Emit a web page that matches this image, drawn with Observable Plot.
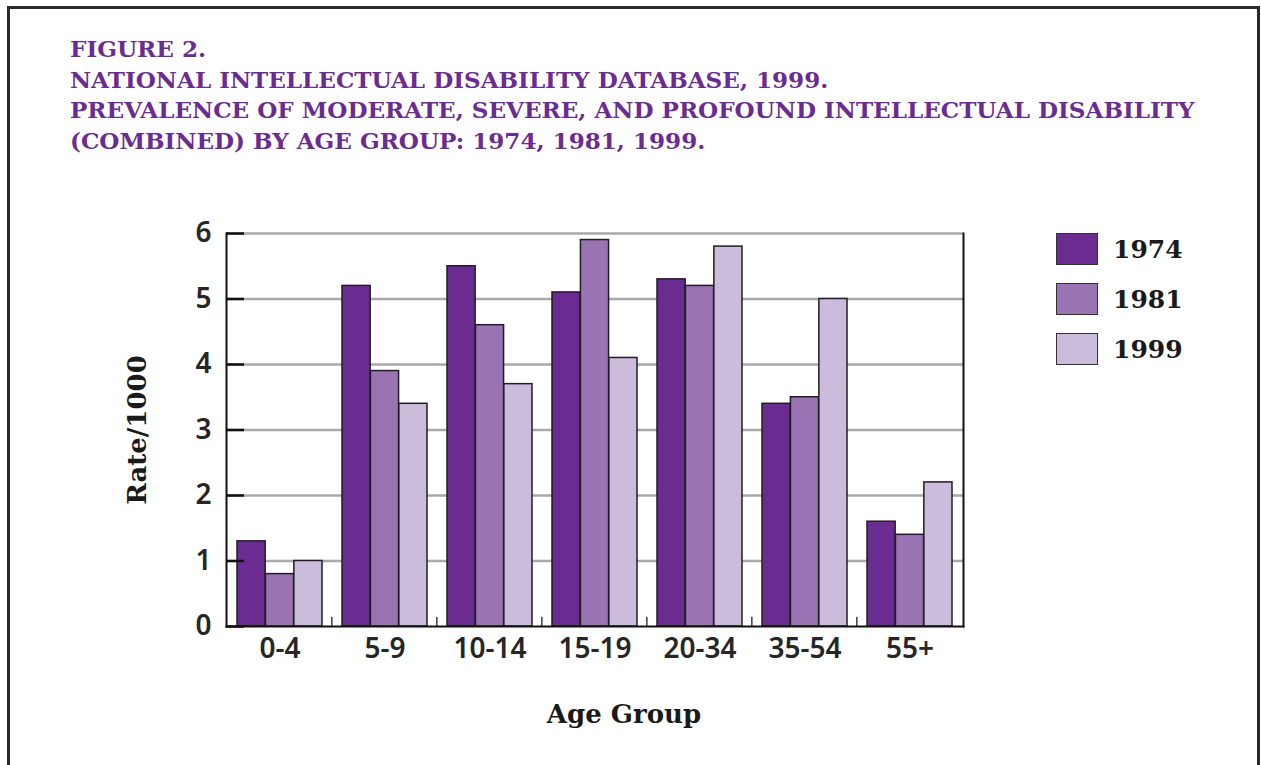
<!DOCTYPE html>
<html>
<head>
<meta charset="utf-8">
<script src="https://cdn.jsdelivr.net/npm/d3@7"></script>
<script src="https://cdn.jsdelivr.net/npm/@observablehq/plot@0.6"></script>
<style>
  html, body { margin: 0; padding: 0; background: #fff; width: 1261px; height: 765px; overflow: hidden; }
  #frame { position: absolute; left: 7px; top: 6px; width: 1253px; height: 900px; box-sizing: border-box;
           border: 3px solid #2a2a2a; border-bottom: none; }
  #title { position: absolute; left: 70px; top: 34px; color: #6a2c91; font-family: "DejaVu Serif", serif;
           font-weight: bold; line-height: 30.7px; white-space: nowrap; }
  #chart { position: absolute; left: 0; top: 200px; }
  .leg-sw { position: absolute; left: 1056px; width: 42px; height: 32px; box-sizing: border-box; border: 1.5px solid #333; }
  .leg-tx { position: absolute; left: 1113px; font-family: "DejaVu Serif", serif; font-weight: bold; font-size: 25px;
            color: #1a1a1a; line-height: 32px; }
</style>
</head>
<body>
<div id="frame"></div>
<div id="title"></div>
<div id="chart"></div>
<div id="legend"></div>
<script>
// ---- data ----
const titleLines = [
  "FIGURE 2.",
  "NATIONAL INTELLECTUAL DISABILITY DATABASE, 1999.",
  "PREVALENCE OF MODERATE, SEVERE, AND PROFOUND INTELLECTUAL DISABILITY",
  "(COMBINED) BY AGE GROUP: 1974, 1981, 1999."
];
const ageGroups = ["0-4", "5-9", "10-14", "15-19", "20-34", "35-54", "55+"];
const years = ["1974", "1981", "1999"];
const rate1974 = [1.3, 5.2, 5.5, 5.1, 5.3, 3.4, 1.6];
const rate1981 = [0.8, 3.9, 4.6, 5.9, 5.2, 3.5, 1.4];
const rate1999 = [1.0, 3.4, 3.7, 4.1, 5.8, 5.0, 2.2];
const yTicks = [0, 1, 2, 3, 4, 5, 6];
const yearColors = ["#6a2c91", "#9a73b2", "#cbbcdc"];
const yLabel = "Rate/1000";
const xLabel = "Age Group";

// ---- title (fit the longest line to the reference width) ----
const titleEl = document.getElementById("title");
const cv = document.createElement("canvas").getContext("2d");
cv.font = "bold 22px 'DejaVu Serif'";
const wLong = cv.measureText(titleLines[2]).width;
const titleSize = 22 * 1125 / wLong;
titleEl.style.fontSize = titleSize + "px";
titleEl.innerHTML = titleLines.map(t => `<div>${t}</div>`).join("");

// ---- table ----
const series = [rate1974, rate1981, rate1999];
const data = [];
years.forEach((yr, i) => ageGroups.forEach((g, j) => data.push({group: g, year: yr, value: series[i][j]})));

// ---- geometry ----
const W = 1261, H = 540;
const mL = 226, mR = 298, mT = 33, mB = 114;
const pIn = 0.19, pOut = 0.095;
const plotW = W - mL - mR;
const step = plotW / (ageGroups.length - pIn + 2 * pOut);
const bandW = step * (1 - pIn);
const barW = bandW / years.length;
const gapHalf = pIn * step / 2;
const tickW = 1.6;

const tickFont = "'Noto Sans', sans-serif";
const serif = "'DejaVu Serif', serif";

const chart = Plot.plot({
  width: W, height: H,
  marginLeft: mL, marginRight: mR, marginTop: mT, marginBottom: mB,
  style: {background: "transparent", overflow: "visible"},
  x: {domain: ageGroups, paddingInner: pIn, paddingOuter: pOut, axis: null},
  y: {domain: [0, 6], axis: null},
  color: {domain: years, range: yearColors},
  marks: [
    Plot.gridY(yTicks.filter(d => d > 0), {stroke: "#a9a9a9", strokeOpacity: 1, strokeWidth: 2.5}),
    ...years.map((yr, i) => Plot.barY(data.filter(d => d.year === yr), {
      x: "group", y: "value", fill: "year", stroke: "#1f1f1f", strokeWidth: 1.5,
      insetLeft: i * barW, insetRight: (years.length - 1 - i) * barW
    })),
    // small inward ticks at the boundaries between age groups
    Plot.barY(ageGroups.slice(1), {
      x: d => d, y1: 0, y2: 0.14, fill: "#222",
      insetLeft: -gapHalf - tickW / 2, insetRight: bandW + gapHalf - tickW / 2
    }),
    Plot.frame({anchor: "left", stroke: "#111", strokeWidth: 2}),
    Plot.frame({anchor: "right", stroke: "#111", strokeWidth: 2}),
    Plot.frame({anchor: "bottom", stroke: "#111", strokeWidth: 2}),
    // inward y ticks
    Plot.axisY({ticks: yTicks, tickSize: 18, dx: 18, tickFormat: () => "", stroke: "#111", strokeWidth: 2.5, label: null}),
    // y tick labels
    Plot.axisY({ticks: yTicks, tickSize: 0, tickPadding: 15, tickFormat: d => String(d), fontSize: 28,
                fontFamily: tickFont, fontWeight: 600, fill: "#262626", label: null}),
    // x tick labels
    Plot.axisX({tickSize: 0, tickPadding: 12, fontSize: 28, fontFamily: tickFont, fontWeight: 600, fill: "#262626", label: null}),
    Plot.text([yLabel], {frameAnchor: "left", textAnchor: "middle", dx: -89, rotate: -90, fontSize: 26, fontWeight: "bold",
                         fontFamily: serif, fill: "#1a1a1a"}),
    Plot.text([xLabel], {frameAnchor: "bottom", dy: 88, dx: 29, lineAnchor: "middle", fontSize: 26, fontWeight: "bold",
                         fontFamily: serif, fill: "#1a1a1a"})
  ]
});
document.getElementById("chart").appendChild(chart);

// ---- legend ----
const legend = document.getElementById("legend");
years.forEach((yr, i) => {
  const top = 233 + i * 50;
  const sw = document.createElement("div");
  sw.className = "leg-sw";
  sw.style.top = top + "px";
  sw.style.background = yearColors[i];
  legend.appendChild(sw);
  const tx = document.createElement("div");
  tx.className = "leg-tx";
  tx.style.top = (top + 1) + "px";
  tx.textContent = yr;
  legend.appendChild(tx);
});
</script>
</body>
</html>
